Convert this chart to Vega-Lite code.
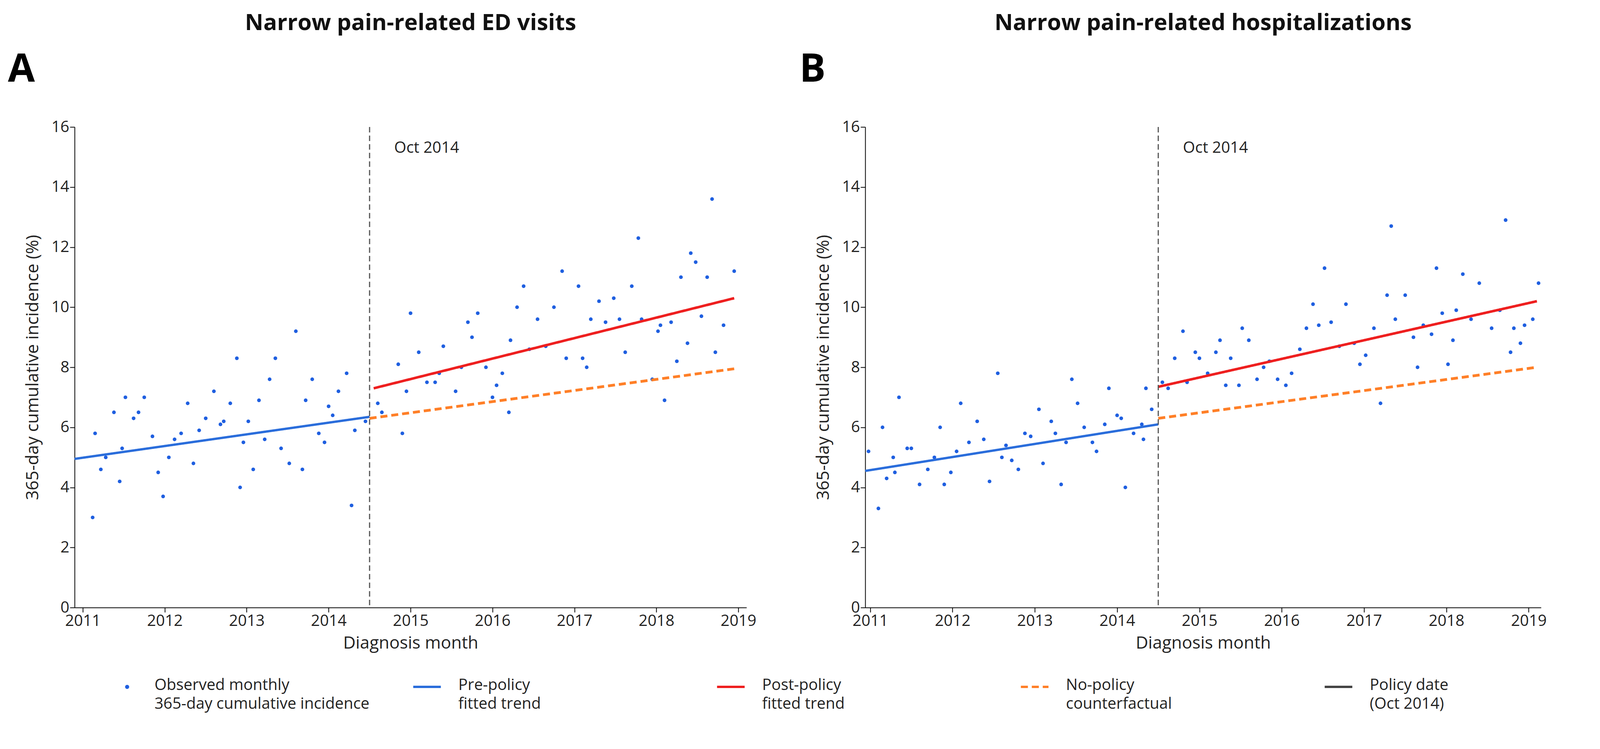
{
"$schema": "https://vega.github.io/schema/vega-lite/v6.json",
"background": "white",
"padding": {"left": 20, "top": 30, "right": 20, "bottom": 10},
"config": {
  "font": "Open Sans",
  "view": {"stroke": null},
  "axis": {"labelFontSize": 40, "titleFontSize": 44, "titleFontWeight": "normal", "grid": false, "domainColor": "black", "tickColor": "black", "tickSize": 12, "labelColor": "#222", "titleColor": "#222", "domainWidth": 2, "tickWidth": 2},
  "title": {"fontSize": 58, "fontWeight": "bold", "offset": 40, "color": "#111"}
},
"datasets": {
  "ptsA": [
    {"x":2011.12,"y":3.0},{"x":2011.15,"y":5.8},{"x":2011.22,"y":4.6},{"x":2011.28,"y":5.0},{"x":2011.38,"y":6.5},{"x":2011.45,"y":4.2},{"x":2011.48,"y":5.3},{"x":2011.52,"y":7.0},{"x":2011.62,"y":6.3},{"x":2011.68,"y":6.5},{"x":2011.75,"y":7.0},{"x":2011.85,"y":5.7},{"x":2011.92,"y":4.5},{"x":2011.98,"y":3.7},{"x":2012.05,"y":5.0},{"x":2012.12,"y":5.6},{"x":2012.2,"y":5.8},{"x":2012.28,"y":6.8},{"x":2012.35,"y":4.8},{"x":2012.42,"y":5.9},{"x":2012.5,"y":6.3},{"x":2012.6,"y":7.2},{"x":2012.68,"y":6.1},{"x":2012.72,"y":6.2},{"x":2012.8,"y":6.8},{"x":2012.88,"y":8.3},{"x":2012.92,"y":4.0},{"x":2012.96,"y":5.5},{"x":2013.02,"y":6.2},{"x":2013.08,"y":4.6},{"x":2013.15,"y":6.9},{"x":2013.22,"y":5.6},{"x":2013.28,"y":7.6},{"x":2013.35,"y":8.3},{"x":2013.42,"y":5.3},{"x":2013.52,"y":4.8},{"x":2013.6,"y":9.2},{"x":2013.68,"y":4.6},{"x":2013.72,"y":6.9},{"x":2013.8,"y":7.6},{"x":2013.88,"y":5.8},{"x":2013.95,"y":5.5},{"x":2014.0,"y":6.7},{"x":2014.05,"y":6.4},{"x":2014.12,"y":7.2},{"x":2014.22,"y":7.8},{"x":2014.28,"y":3.4},{"x":2014.32,"y":5.9},{"x":2014.45,"y":6.2},
    {"x":2014.6,"y":6.8},{"x":2014.65,"y":6.5},{"x":2014.85,"y":8.1},{"x":2014.9,"y":5.8},{"x":2014.95,"y":7.2},{"x":2015.0,"y":9.8},{"x":2015.1,"y":8.5},{"x":2015.2,"y":7.5},{"x":2015.3,"y":7.5},{"x":2015.35,"y":7.8},{"x":2015.4,"y":8.7},{"x":2015.55,"y":7.2},{"x":2015.62,"y":8.0},{"x":2015.7,"y":9.5},{"x":2015.75,"y":9.0},{"x":2015.82,"y":9.8},{"x":2015.92,"y":8.0},{"x":2016.0,"y":7.0},{"x":2016.05,"y":7.4},{"x":2016.12,"y":7.8},{"x":2016.2,"y":6.5},{"x":2016.22,"y":8.9},{"x":2016.3,"y":10.0},{"x":2016.38,"y":10.7},{"x":2016.45,"y":8.6},{"x":2016.55,"y":9.6},{"x":2016.65,"y":8.7},{"x":2016.75,"y":10.0},{"x":2016.85,"y":11.2},{"x":2016.9,"y":8.3},{"x":2017.05,"y":10.7},{"x":2017.1,"y":8.3},{"x":2017.15,"y":8.0},{"x":2017.2,"y":9.6},{"x":2017.3,"y":10.2},{"x":2017.38,"y":9.5},{"x":2017.48,"y":10.3},{"x":2017.55,"y":9.6},{"x":2017.62,"y":8.5},{"x":2017.7,"y":10.7},{"x":2017.78,"y":12.3},{"x":2017.82,"y":9.6},{"x":2017.95,"y":7.6},{"x":2018.02,"y":9.2},{"x":2018.05,"y":9.4},{"x":2018.1,"y":6.9},{"x":2018.18,"y":9.5},{"x":2018.25,"y":8.2},{"x":2018.3,"y":11.0},{"x":2018.38,"y":8.8},{"x":2018.42,"y":11.8},{"x":2018.48,"y":11.5},{"x":2018.55,"y":9.7},{"x":2018.62,"y":11.0},{"x":2018.68,"y":13.6},{"x":2018.72,"y":8.5},{"x":2018.82,"y":9.4},{"x":2018.95,"y":11.2}
  ],
  "ptsB": [
    {"x":2010.98,"y":5.2},{"x":2011.1,"y":3.3},{"x":2011.15,"y":6.0},{"x":2011.2,"y":4.3},{"x":2011.28,"y":5.0},{"x":2011.3,"y":4.5},{"x":2011.35,"y":7.0},{"x":2011.45,"y":5.3},{"x":2011.5,"y":5.3},{"x":2011.6,"y":4.1},{"x":2011.7,"y":4.6},{"x":2011.78,"y":5.0},{"x":2011.85,"y":6.0},{"x":2011.9,"y":4.1},{"x":2011.98,"y":4.5},{"x":2012.05,"y":5.2},{"x":2012.1,"y":6.8},{"x":2012.2,"y":5.5},{"x":2012.3,"y":6.2},{"x":2012.38,"y":5.6},{"x":2012.45,"y":4.2},{"x":2012.55,"y":7.8},{"x":2012.6,"y":5.0},{"x":2012.65,"y":5.4},{"x":2012.72,"y":4.9},{"x":2012.8,"y":4.6},{"x":2012.88,"y":5.8},{"x":2012.95,"y":5.7},{"x":2013.05,"y":6.6},{"x":2013.1,"y":4.8},{"x":2013.2,"y":6.2},{"x":2013.25,"y":5.8},{"x":2013.32,"y":4.1},{"x":2013.38,"y":5.5},{"x":2013.45,"y":7.6},{"x":2013.52,"y":6.8},{"x":2013.6,"y":6.0},{"x":2013.7,"y":5.5},{"x":2013.75,"y":5.2},{"x":2013.85,"y":6.1},{"x":2013.9,"y":7.3},{"x":2014.0,"y":6.4},{"x":2014.05,"y":6.3},{"x":2014.1,"y":4.0},{"x":2014.2,"y":5.8},{"x":2014.3,"y":6.1},{"x":2014.32,"y":5.6},{"x":2014.35,"y":7.3},{"x":2014.42,"y":6.6},
    {"x":2014.55,"y":7.5},{"x":2014.62,"y":7.3},{"x":2014.7,"y":8.3},{"x":2014.8,"y":9.2},{"x":2014.85,"y":7.5},{"x":2014.95,"y":8.5},{"x":2015.0,"y":8.3},{"x":2015.1,"y":7.8},{"x":2015.2,"y":8.5},{"x":2015.25,"y":8.9},{"x":2015.32,"y":7.4},{"x":2015.38,"y":8.3},{"x":2015.48,"y":7.4},{"x":2015.52,"y":9.3},{"x":2015.6,"y":8.9},{"x":2015.7,"y":7.6},{"x":2015.78,"y":8.0},{"x":2015.85,"y":8.2},{"x":2015.95,"y":7.6},{"x":2016.05,"y":7.4},{"x":2016.12,"y":7.8},{"x":2016.22,"y":8.6},{"x":2016.3,"y":9.3},{"x":2016.38,"y":10.1},{"x":2016.45,"y":9.4},{"x":2016.52,"y":11.3},{"x":2016.6,"y":9.5},{"x":2016.7,"y":8.7},{"x":2016.78,"y":10.1},{"x":2016.88,"y":8.8},{"x":2016.95,"y":8.1},{"x":2017.02,"y":8.4},{"x":2017.12,"y":9.3},{"x":2017.2,"y":6.8},{"x":2017.28,"y":10.4},{"x":2017.33,"y":12.7},{"x":2017.38,"y":9.6},{"x":2017.5,"y":10.4},{"x":2017.6,"y":9.0},{"x":2017.65,"y":8.0},{"x":2017.72,"y":9.4},{"x":2017.82,"y":9.1},{"x":2017.88,"y":11.3},{"x":2017.95,"y":9.8},{"x":2018.02,"y":8.1},{"x":2018.08,"y":8.9},{"x":2018.12,"y":9.9},{"x":2018.2,"y":11.1},{"x":2018.3,"y":9.6},{"x":2018.4,"y":10.8},{"x":2018.55,"y":9.3},{"x":2018.65,"y":9.9},{"x":2018.72,"y":12.9},{"x":2018.78,"y":8.5},{"x":2018.82,"y":9.3},{"x":2018.9,"y":8.8},{"x":2018.95,"y":9.4},{"x":2019.05,"y":9.6},{"x":2019.12,"y":10.8}
  ],
  "linesA": [
    {"s":"pre","x":2010.9,"y":4.95},{"s":"pre","x":2014.5,"y":6.35},
    {"s":"post","x":2014.55,"y":7.3},{"s":"post","x":2018.95,"y":10.3},
    {"s":"cf","x":2014.5,"y":6.3},{"s":"cf","x":2018.95,"y":7.95}
  ],
  "linesB": [
    {"s":"pre","x":2010.94,"y":4.55},{"s":"pre","x":2014.5,"y":6.1},
    {"s":"post","x":2014.5,"y":7.35},{"s":"post","x":2019.1,"y":10.2},
    {"s":"cf","x":2014.5,"y":6.3},{"s":"cf","x":2019.1,"y":8.0}
  ],
  "legend": [
    {"k":"a","label":"Observed monthly\n365-day cumulative incidence"},
    {"k":"b","label":"Pre-policy\nfitted trend"},
    {"k":"c","label":"Post-policy\nfitted trend"},
    {"k":"d","label":"No-policy\ncounterfactual"},
    {"k":"e","label":"Policy date\n(Oct 2014)"}
  ]
},
"vconcat": [
  {
    "hconcat": [
      {
        "width": 1720, "height": 1230,
        "title": {"text": "Narrow pain-related ED visits"},
        "layer": [
          {"data": {"name": "ptsA"}, "mark": {"type": "circle", "size": 90, "opacity": 1, "color": "#1f5fe0"},
           "encoding": {
             "x": {"field": "x", "type": "quantitative", "scale": {"domain": [2010.9, 2019.1], "nice": false, "zero": false}, "axis": {"format": "d", "values": [2011,2012,2013,2014,2015,2016,2017,2018,2019], "title": "Diagnosis month", "titlePadding": 15}},
             "y": {"field": "y", "type": "quantitative", "scale": {"domain": [0, 16], "nice": false}, "axis": {"format": "d", "values": [0,2,4,6,8,10,12,14,16], "title": "365-day cumulative incidence (%)", "titlePadding": 25}}}},
          {"data": {"name": "linesA"}, "mark": {"type": "line"},
           "encoding": {
             "x": {"field": "x", "type": "quantitative"}, "y": {"field": "y", "type": "quantitative"},
             "detail": {"field": "s"},
             "color": {"field": "s", "scale": {"domain": ["pre","post","cf"], "range": ["#2a6ddb","#ee1f1f","#ff7f27"]}, "legend": null},
             "strokeWidth": {"field": "s", "scale": {"domain": ["pre","post","cf"], "range": [6,7,5]}, "legend": null},
             "strokeDash": {"field": "s", "scale": {"domain": ["pre","post","cf"], "range": [[1,0],[1,0],[18,10]]}, "legend": null}}},
          {"data": {"values": [{"x": 2014.5}]}, "mark": {"type": "rule", "color": "#555", "strokeWidth": 3, "strokeDash": [14, 8]},
           "encoding": {"x": {"field": "x", "type": "quantitative"}}},
          {"data": {"values": [{"x": 2014.8, "y": 15.3, "t": "Oct 2014"}]}, "mark": {"type": "text", "align": "left", "fontSize": 40, "color": "#222"},
           "encoding": {"x": {"field": "x", "type": "quantitative"}, "y": {"field": "y", "type": "quantitative"}, "text": {"field": "t"}}},
          {"data": {"values": [{"x": 2010.25, "y": 17.9, "t": "A"}]}, "mark": {"type": "text", "fontSize": 100, "fontWeight": "bold", "color": "#000"},
           "encoding": {"x": {"field": "x", "type": "quantitative"}, "y": {"field": "y", "type": "quantitative"}, "text": {"field": "t"}}}
        ]
      },
      {
        "width": 1730, "height": 1230,
        "title": {"text": "Narrow pain-related hospitalizations"},
        "layer": [
          {"data": {"name": "ptsB"}, "mark": {"type": "circle", "size": 90, "opacity": 1, "color": "#1f5fe0"},
           "encoding": {
             "x": {"field": "x", "type": "quantitative", "scale": {"domain": [2010.94, 2019.15], "nice": false, "zero": false}, "axis": {"format": "d", "values": [2011,2012,2013,2014,2015,2016,2017,2018,2019], "title": "Diagnosis month", "titlePadding": 15}},
             "y": {"field": "y", "type": "quantitative", "scale": {"domain": [0, 16], "nice": false}, "axis": {"format": "d", "values": [0,2,4,6,8,10,12,14,16], "title": "365-day cumulative incidence (%)", "titlePadding": 25}}}},
          {"data": {"name": "linesB"}, "mark": {"type": "line"},
           "encoding": {
             "x": {"field": "x", "type": "quantitative"}, "y": {"field": "y", "type": "quantitative"},
             "detail": {"field": "s"},
             "color": {"field": "s", "scale": {"domain": ["pre","post","cf"], "range": ["#2a6ddb","#ee1f1f","#ff7f27"]}, "legend": null},
             "strokeWidth": {"field": "s", "scale": {"domain": ["pre","post","cf"], "range": [6,7,5]}, "legend": null},
             "strokeDash": {"field": "s", "scale": {"domain": ["pre","post","cf"], "range": [[1,0],[1,0],[18,10]]}, "legend": null}}},
          {"data": {"values": [{"x": 2014.5}]}, "mark": {"type": "rule", "color": "#555", "strokeWidth": 3, "strokeDash": [14, 8]},
           "encoding": {"x": {"field": "x", "type": "quantitative"}}},
          {"data": {"values": [{"x": 2014.8, "y": 15.3, "t": "Oct 2014"}]}, "mark": {"type": "text", "align": "left", "fontSize": 40, "color": "#222"},
           "encoding": {"x": {"field": "x", "type": "quantitative"}, "y": {"field": "y", "type": "quantitative"}, "text": {"field": "t"}}},
          {"data": {"values": [{"x": 2010.3, "y": 17.9, "t": "B"}]}, "mark": {"type": "text", "fontSize": 100, "fontWeight": "bold", "color": "#000"},
           "encoding": {"x": {"field": "x", "type": "quantitative"}, "y": {"field": "y", "type": "quantitative"}, "text": {"field": "t"}}}
        ]
      }
    ],
    "spacing": 110
  },
  {
    "width": 3500, "height": 100,
    "data": {"name": "legend"},
    "encoding": {
      "x": {"field": "k", "type": "nominal", "scale": {"type": "point", "padding": 0.25}, "axis": null}
    },
    "layer": [
      {"transform": [{"filter": "datum.k == 'a'"}], "mark": {"type": "circle", "size": 110, "color": "#1f5fe0", "opacity": 1, "xOffset": -60, "y": 30}},
      {"transform": [{"filter": "datum.k != 'a'"}], "mark": {"type": "point", "shape": "M-1,0H1", "size": 5000, "filled": false, "xOffset": -70, "opacity": 1, "y": 30},
       "encoding": {
         "stroke": {"field": "k", "scale": {"domain": ["b","c","d","e"], "range": ["#2a6ddb","#ee1f1f","#ff7f27","#444"]}, "legend": null},
         "strokeWidth": {"value": 6},
         "strokeDash": {"field": "k", "scale": {"domain": ["b","c","d","e"], "range": [[1,0],[1,0],[18,10],[14,9]]}, "legend": null}}},
      {"mark": {"type": "text", "align": "left", "fontSize": 40, "lineBreak": "\n", "color": "#222", "xOffset": 10, "baseline": "top", "lineHeight": 48, "y": 6},
       "encoding": {"text": {"field": "label"}}}
    ]
  }
],
"spacing": 60
}
